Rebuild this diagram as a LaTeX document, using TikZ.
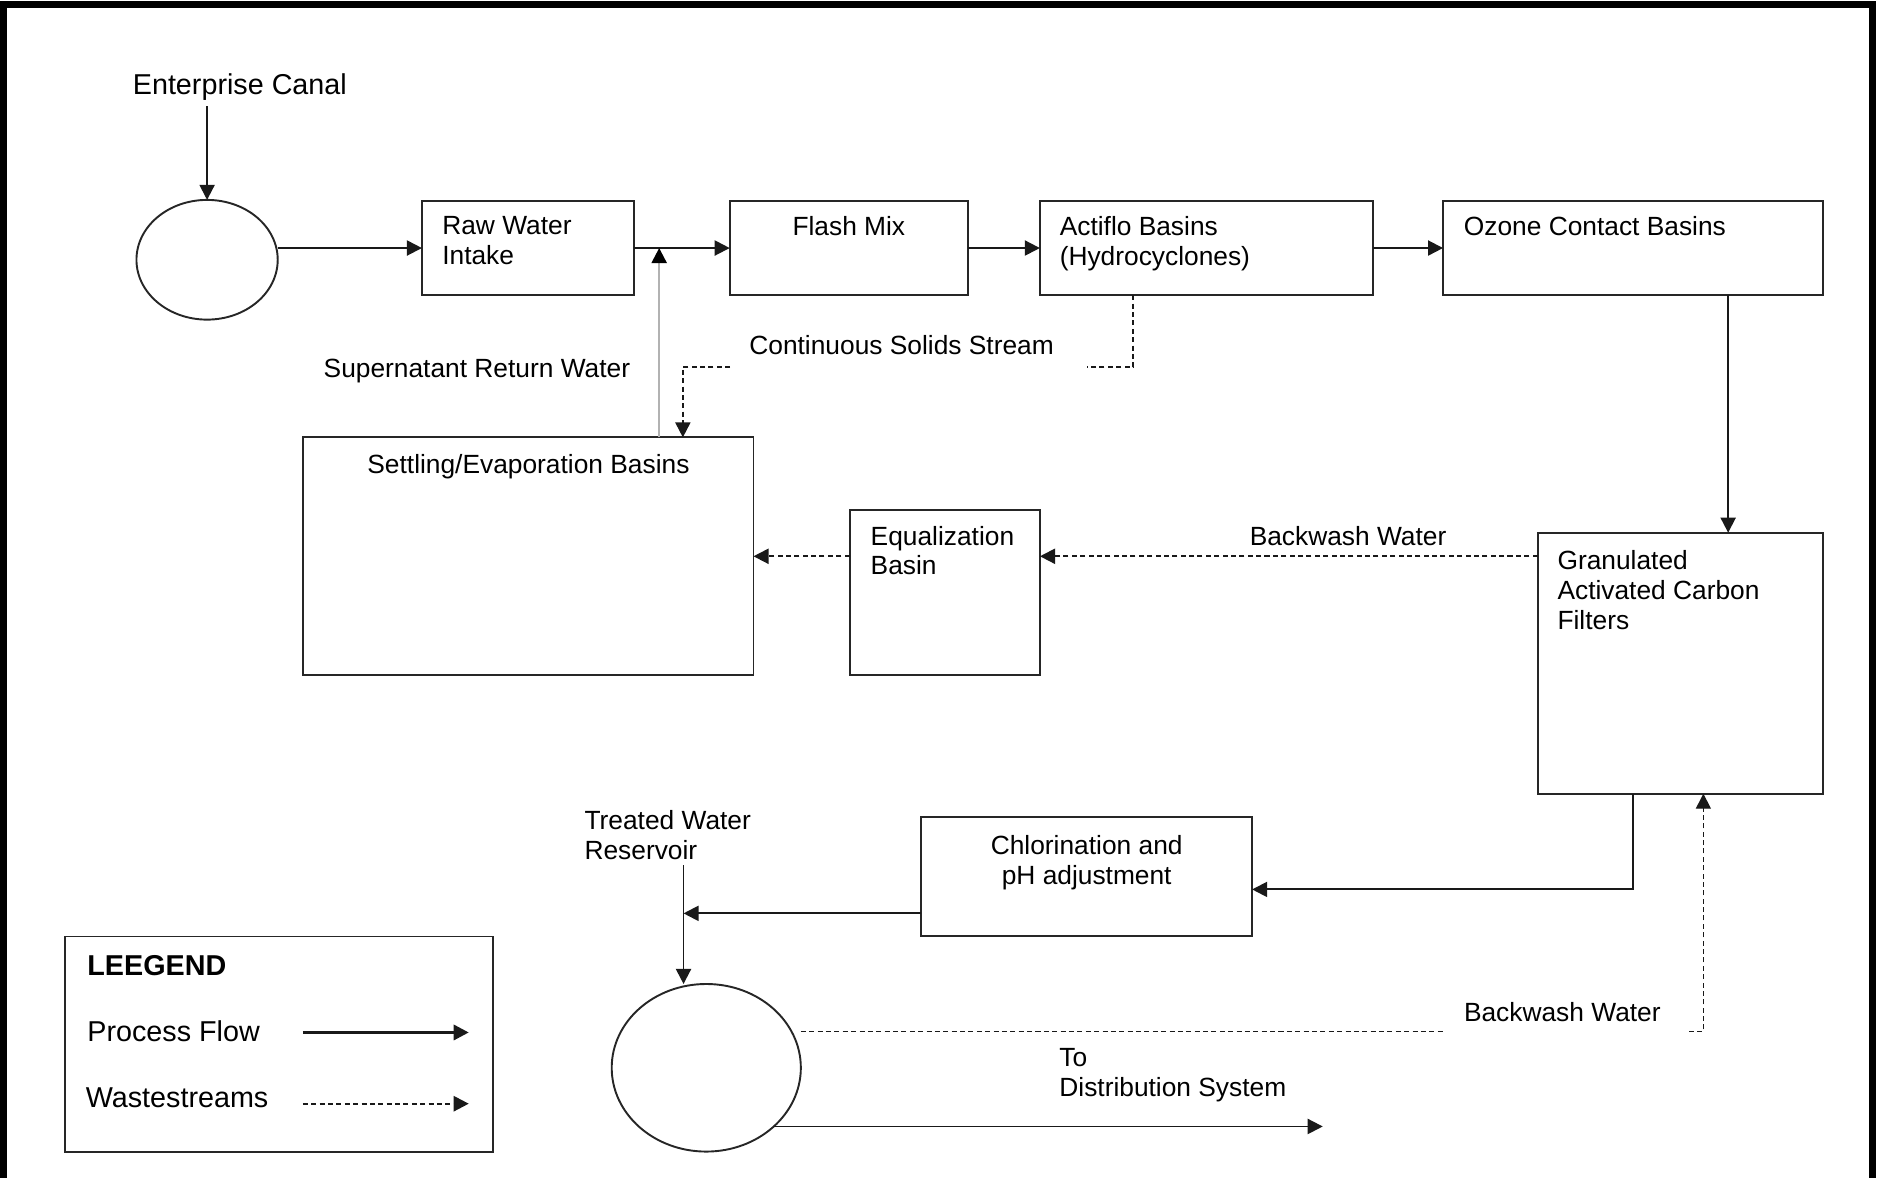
\documentclass[tikz,border=0pt]{standalone}
\usepackage{fontspec}
\setmainfont{Liberation Sans}
\usetikzlibrary{arrows.meta,shapes.geometric}

\tikzset{
  box/.style 2 args={draw=black!85,line width=0.8pt,minimum width=#1*0.5pt,minimum height=#2*0.5pt,inner sep=0pt,outer sep=0pt},
  tank/.style 2 args={ellipse,box={#1}{#2}},
  lbl/.style={inner sep=0pt,outer sep=0pt,align=left,anchor=north west,font=\fontsize{11}{12.5}\selectfont},
  leglbl/.style={lbl,font=\fontsize{12}{14}\selectfont},
  flow/.style={draw=black!90,line width=0.8pt,-{Triangle[length=6.3pt,width=6.3pt]}},
  waste/.style={flow,dash pattern=on 2.1pt off 1.4pt},
  dashln/.style={draw=black!90,line width=0.8pt,dash pattern=on 2.1pt off 1.4pt},
  thindash/.style={draw=black!90,line width=0.5pt,dash pattern=on 2.1pt off 1.4pt},
  ret/.style={draw=black!30,line width=0.9pt,-{Triangle[length=6.3pt,width=6.3pt,color=black]}}
}

\begin{document}
\begin{tikzpicture}[x=0.5pt,y=-0.5pt]
\useasboundingbox (0,0) rectangle (1568,984);
\draw[line width=3pt] (3,990) -- (3,3.5) -- (1564.5,3.5) -- (1564.5,990);

\node[box={177}{79}] (raw) at (441,207.2) {};
\node[box={199}{79}] (fm) at (709.1,207.2) {};
\node[box={278}{79}] (act) at (1007.7,207.2) {};
\node[box={317.5}{79}] (oz) at (1364.25,207.2) {};
\node[box={238.5}{218}] (gac) at (1403.75,554) {};
\node[box={159}{138}] (eq) at (789.25,494.75) {};
\node[box={376}{198.6}] (set) at (441.45,464.7) {};
\node[box={276.4}{99.4}] (chl) at (907.8,732.3) {};
\node[box={357}{180}] (leg) at (233.15,872.35) {};
\node[tank={118}{100}] (canal) at (173,217) {};
\node[tank={158}{140}] (res) at (590,892) {};

\node[leglbl] (ecan) at (111,61.5) {Enterprise Canal};
\node[lbl] (rawt) at ([xshift=8.5pt,yshift=-6.5pt]raw.north west) {Raw Water\\Intake};
\node[lbl,anchor=north] (fmt) at ([yshift=-6.5pt]fm.north) {Flash Mix};
\node[lbl] (actt) at ([xshift=8.3pt,yshift=-6.5pt]act.north west) {Actiflo Basins\\(Hydrocyclones)};
\node[lbl] (ozt) at ([xshift=8.7pt,yshift=-6.5pt]oz.north west) {Ozone Contact Basins};
\node[lbl] (gact) at ([xshift=8.3pt,yshift=-7.4pt]gac.north west) {Granulated\\Activated Carbon\\Filters};
\node[lbl] (eqt) at ([xshift=8.8pt,yshift=-6.8pt]eq.north west) {Equalization\\Basin};
\node[lbl,anchor=north] (sett) at ([yshift=-7.2pt]set.north) {Settling/Evaporation Basins};
\node[lbl,anchor=north,align=center] (chlt) at ([yshift=-7.5pt]chl.north) {Chlorination and\\pH adjustment};
\node[lbl] (csl) at (626,280) {Continuous Solids Stream};
\node[lbl] (srl) at (270.4,300) {Supernatant Return Water};
\node[lbl] (bwu) at (1044,439.5) {Backwash Water};
\node[lbl] (trl) at (488.3,677) {Treated Water\\Reservoir};
\node[lbl] (bwd) at (1223,837) {Backwash Water};
\node[lbl] (dsl) at (885,875.5) {To\\Distribution System};
\node[leglbl,font=\fontsize{12}{14}\selectfont\bfseries] (legt) at (73,798.4) {LEEGEND};
\node[leglbl] (pfl) at (73,853) {Process Flow};
\node[leglbl] (wsl) at (71.7,909) {Wastestreams};

% process flow
\path (canal.north |- ecan.south) ++(0,5) coordinate (ecs);
\draw[flow] (ecs) -- (canal.north);
\draw[flow] (canal.east |- raw.west) -- (raw.west);
\draw[flow] (raw.east) -- (fm.west);
\draw[flow] (fm.east) -- (act.west);
\draw[flow] (act.east) -- (oz.west);
\path ([xshift=39.7pt]oz.south) coordinate (ozs);
\draw[flow] (ozs) -- (ozs |- gac.north);
\path ([xshift=-19.9pt]gac.south) coordinate (gacs);
\path ([yshift=-5.35pt]chl.east) coordinate (chle);
\draw[flow] (gacs) |- (chle);
\coordinate (trv) at (571,723);
\path ([yshift=-15.35pt]chl.west) coordinate (chlw);
\draw[flow] (chlw) -- (chlw -| trv);
\draw[flow] (trv) -- (trv |- res.north);
\coordinate (dse) at (1105,941);
\draw[flow] (res.-41) -- (res.-41 -| dse);

% wastestreams
\draw[waste] (gac.west |- set.east) -- (eq.east |- set.east);
\draw[waste] (eq.west |- set.east) -- (set.east);
\path ([xshift=-30.45pt]act.south) coordinate (cso);
\path ([xshift=64.5pt]set.north) coordinate (csd);
\coordinate (cs1) at (908,306.5);
\coordinate (cs2) at (610,306.5);
\draw[dashln] (cso) |- (cs1);
\draw[waste] (cs2) -| (csd);
\path ([xshift=54.6pt]set.north) coordinate (sup);
\draw[ret] (sup) -- (sup |- raw.east);
\path ([yshift=15pt]res.east) coordinate (rese);
\coordinate (bw1) at (1206,862);
\coordinate (bw2) at (1411,862);
\draw[thindash] (rese) -- (bw1);
\path ([xshift=9.6pt]gac.south) coordinate (gacb);
\draw[thindash,-{Triangle[length=6.3pt,width=6.3pt]}] (bw2) -| (gacb);

% legend
\coordinate (pf1) at (253,862.5);
\coordinate (pf2) at (391.6,862.5);
\draw[flow,line width=1.3pt] (pf1) -- (pf2);
\coordinate (ws1) at (253,922);
\coordinate (ws2) at (391.6,922);
\draw[waste,line width=1pt] (ws1) -- (ws2);
\end{tikzpicture}
\end{document}
